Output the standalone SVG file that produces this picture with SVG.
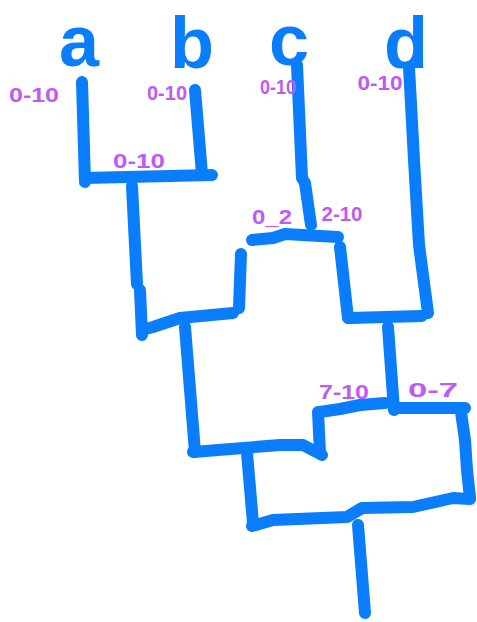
<svg xmlns="http://www.w3.org/2000/svg" width="477" height="622" viewBox="0 0 477 622">
<style>
.leaf{font-family:"Liberation Sans",Arial,sans-serif;font-weight:bold;font-size:72px;fill:#0A7DFA;text-anchor:middle}
.lbl{font-family:"Liberation Sans",Arial,sans-serif;font-weight:bold;font-size:20px;fill:#BF5AF2;text-anchor:middle}
.w{fill:none;stroke:#0A7DFA;stroke-width:12;stroke-linecap:round;stroke-linejoin:round}
</style>
<rect width="477" height="622" fill="#ffffff"/>
<g id="node-a"><text class="leaf" x="79" y="66">a</text></g>
<g id="node-b"><text class="leaf" x="192" y="68">b</text></g>
<g id="node-c"><text class="leaf" x="289" y="65">c</text></g>
<g id="node-d"><text class="leaf" x="406" y="68">d</text></g>
<g id="connectors">
<path class="w" d="M82,82 L85,182"/>
<path class="w" d="M85,178 L212,175"/>
<path class="w" d="M195,90 L202,174"/>
<path class="w" d="M132,186 L137,284 M140,290 L142,335"/>
<path class="w" d="M142,330 L153,327 L180,318 L233,313"/>
<path class="w" d="M241,254 L239,308"/>
<path class="w" d="M252,240 L273,238 L285,234 L338,237"/>
<path class="w" d="M297,65 L302,178 L305,183 L311,225"/>
<path class="w" d="M409,67 L414,160 L419,245 L428,313"/>
<path class="w" d="M340,247 L348,318"/>
<path class="w" d="M350,318 L422,316"/>
<path class="w" d="M388,327 L394,410"/>
<path class="w" d="M394,408 L465,408"/>
<path class="w" d="M461,412 L465,440 L467,470 L470,498"/>
<path class="w" d="M470,499 L453,498 L413,507 L362,508 L347,517 L273,520 L252,526"/>
<path class="w" d="M247,453 L253,523"/>
<path class="w" d="M358,525 L365,613"/>
<path class="w" d="M185,327 L195,452"/>
<path class="w" d="M193,452 L280,445 L303,445 L322,455"/>
<path class="w" d="M320,453 L318,412"/>
<path class="w" d="M320,412 L340,409 L360,405 L385,403"/>
</g>
<g id="labels">
<text class="lbl" x="34" y="102" textLength="50" lengthAdjust="spacingAndGlyphs">0-10</text>
<text class="lbl" x="167" y="100" textLength="40" lengthAdjust="spacingAndGlyphs">0-10</text>
<text class="lbl" x="139" y="168" textLength="52" lengthAdjust="spacingAndGlyphs">0-10</text>
<text class="lbl" x="278" y="94" textLength="36" lengthAdjust="spacingAndGlyphs">0-10</text>
<text class="lbl" x="380" y="90" textLength="45" lengthAdjust="spacingAndGlyphs">0-10</text>
<text class="lbl" x="272" y="224" textLength="40" lengthAdjust="spacingAndGlyphs">0_2</text>
<text class="lbl" x="342" y="221" textLength="41" lengthAdjust="spacingAndGlyphs">2-10</text>
<text class="lbl" x="344" y="399" textLength="50" lengthAdjust="spacingAndGlyphs">7-10</text>
<text class="lbl" x="433" y="397" textLength="50" lengthAdjust="spacingAndGlyphs">0-7</text>
</g>
</svg>
